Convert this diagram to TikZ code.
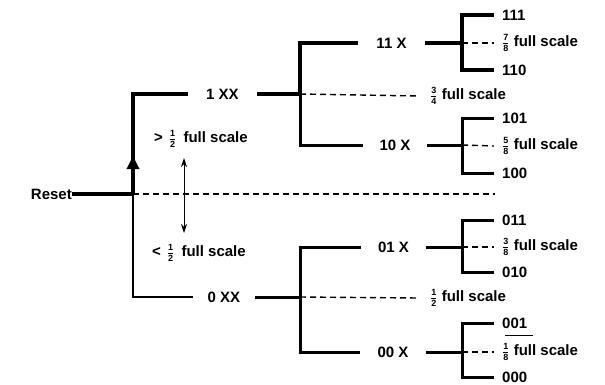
\documentclass[tikz,border=0pt]{standalone}
\usepackage{fontspec}
\setmainfont{Liberation Sans}
\usetikzlibrary{arrows.meta}
\newcommand\fr[2]{\ensuremath{{\hbox{\fontsize{9}{9}\bfseries #1}\over\hbox{\fontsize{9}{9}\bfseries #2}}}}
\tikzset{
  lbl/.style={inner ysep=0pt, inner xsep=0pt, font=\fontsize{15}{17}\selectfont\bfseries},
  leaf/.style={lbl, anchor=west, inner xsep=8pt},
  bar/.style={line width=4pt},
  midbar/.style={line width=3pt},
  thinbar/.style={line width=2.3pt},
  dline/.style={dashed, dash pattern=on 6pt off 4pt, line width=1.4pt},
}
\begin{document}
\begin{tikzpicture}[x=1pt,y=-1pt]
\useasboundingbox (0,0) rectangle (605,384);

% root
\node[lbl, anchor=east] (reset) at (72,194) {Reset};
\coordinate (j0) at (133,194);
\coordinate (tip) at (133,156);
\coordinate (endmid) at (495,194);

% level 1
\node[lbl, minimum width=69pt] (n1xx) at (222.5,94) {1 XX};
\node[lbl, minimum width=62pt] (n0xx) at (224,297) {0 XX};
\coordinate (j1) at (300,94);
\coordinate (j2) at (300,297);
\node[leaf, inner xsep=11pt] (f34) at (419,96) {\fr34 full scale};
\node[leaf, inner xsep=11pt] (f12) at (419,298) {\fr12 full scale};

% level 2
\node[lbl, minimum width=67pt] (n11x) at (391.5,43) {11 X};
\node[lbl, minimum width=63pt] (n10x) at (395,145) {10 X};
\node[lbl, minimum width=65pt] (n01x) at (393.5,247) {01 X};
\node[lbl, minimum width=65pt] (n00x) at (393,352) {00 X};
\coordinate (j11) at (462,43);
\coordinate (j10) at (462,145);
\coordinate (j01) at (462,247);
\coordinate (j00) at (462,352);

% leaves
\node[leaf] (l111) at (494,15) {111};
\node[leaf] (f78) at (494,43) {\fr78 full scale};
\node[leaf] (l110) at (494,70) {110};
\node[leaf] (l101) at (494,118) {101};
\node[leaf] (f58) at (494,146) {\fr58 full scale};
\node[leaf] (l100) at (494,173) {100};
\node[leaf] (l011) at (494,220) {011};
\node[leaf] (f38) at (494,247) {\fr38 full scale};
\node[leaf] (l010) at (494,272) {010};
\node[leaf] (l001) at (494,323) {001};
\node[leaf] (f18) at (494,352) {\fr18 full scale};
\node[leaf] (l000) at (494,377) {000};

% side labels
\node[lbl, anchor=west] (gt) at (154,139) {>\kern6pt\fr12\kern3pt{} full scale};
\node[lbl, anchor=west] (lt) at (152,253) {<\kern6pt\fr12\kern3pt{} full scale};
\coordinate (ua) at (184,158);
\coordinate (da) at (184,233);

% connectors: root
\draw[bar] (reset.east) -- (j0);
\draw[bar] (j0) |- (n1xx.west);
\draw[bar, -{Triangle[length=13pt,width=12pt]}] (j0) -- (tip);
\draw[thinbar] (j0) |- (n0xx.west);
\draw[dline] (j0) -- (endmid);
\draw[line width=1pt, {Stealth[length=9pt,width=6pt]}-{Stealth[length=9pt,width=6pt]}] (ua) -- (da);

% level 1 connectors
\draw[bar] (n1xx.east) -- (j1);
\draw[bar] (j1) |- (n11x.west);
\draw[midbar] (j1) |- (n10x.west);
\draw[dline] (j1) -- (f34.west);
\draw[midbar] (n0xx.east) -- (j2);
\draw[midbar] (j2) |- (n01x.west);
\draw[midbar] (j2) |- (n00x.west);
\draw[dline] (j2) -- (f12.west);

% level 2 connectors
\draw[bar] (n11x.east) -- (j11);
\draw[bar] (j11) |- (l111.west);
\draw[bar] (j11) |- (l110.west);
\draw[dline] (j11) -- (f78.west);

\draw[midbar] (n10x.east) -- (j10);
\draw[midbar] (j10) |- (l101.west);
\draw[midbar] (j10) |- (l100.west);
\draw[dline] (j10) -- (f58.west);

\draw[midbar] (n01x.east) -- (j01);
\draw[midbar] (j01) |- (l011.west);
\draw[midbar] (j01) |- (l010.west);
\draw[dline] (j01) -- (f38.west);

\draw[midbar] (n00x.east) -- (j00);
\draw[midbar] (j00) |- (l001.west);
\draw[midbar] (j00) |- (l000.west);
\draw[dline] (j00) -- (f18.west);

% stroke above 1/8
\draw[line width=0.9pt] (505,335) -- (533,335);
\end{tikzpicture}
\end{document}
